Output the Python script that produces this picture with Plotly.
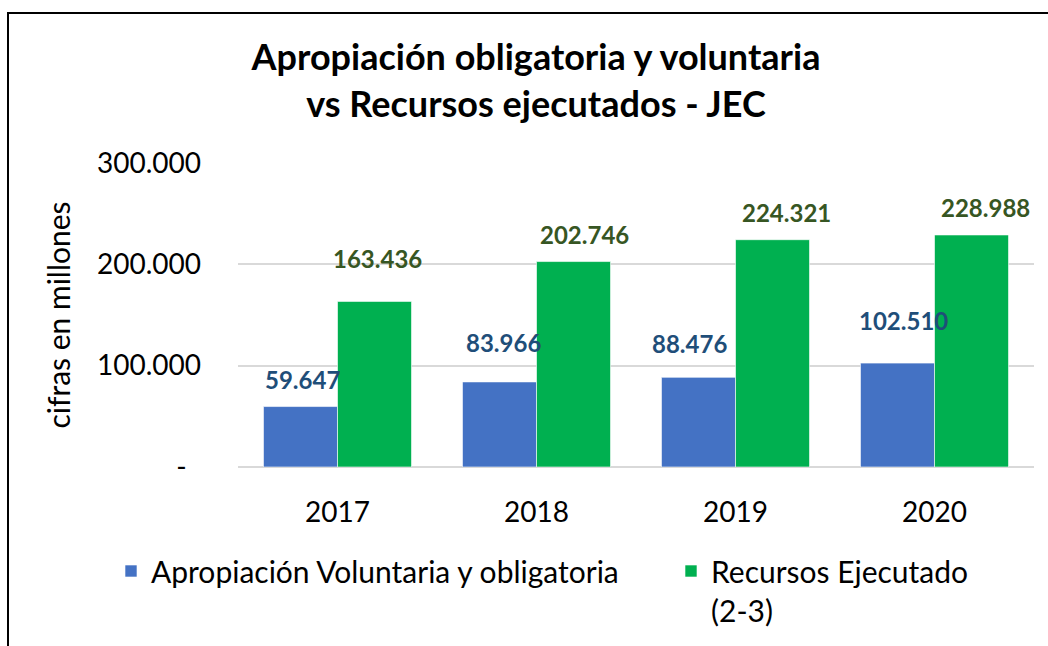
import plotly.graph_objects as go

years = ["2017", "2018", "2019", "2020"]
apropiacion = [59647, 83966, 88476, 102510]
recursos = [163436, 202746, 224321, 228988]
apropiacion_labels = ["59.647", "83.966", "88.476", "102.510"]
recursos_labels = ["163.436", "202.746", "224.321", "228.988"]
ytick_vals = [0, 100000, 200000, 300000]
ytick_text = ["-\u00a0\u00a0", "100.000", "200.000", "300.000"]

# label pixel offsets (xshift, yshift) relative to each bar-group category center / bar top
apr_off = [(-37 + 2, 27), (-37 + 4, 39), (-37 - 9, 34), (-37 + 6, 43)]
rec_off = [(37 + 3, 43), (37 + 11, 27), (37 + 14, 27), (37 + 14, 27)]

FONT = "Lato"
BLUE = "#4472C4"
GREEN = "#00B050"

fig = go.Figure()
fig.add_trace(go.Bar(x=years, y=apropiacion, name="Apropiación Voluntaria y obligatoria",
                     legend="legend", showlegend=True,
                     marker=dict(color=BLUE, line=dict(color="rgba(255,255,255,0.6)", width=1))))
fig.add_trace(go.Bar(x=years, y=recursos, name="Recursos Ejecutado<br>(2-3)",
                     legend="legend2", showlegend=True,
                     marker=dict(color=GREEN, line=dict(color="rgba(255,255,255,0.6)", width=1))))

annotations = []
# annotation x uses the category's index (numeric-looking category names would be read as indices)
for i, (v, t, (dx, dy)) in enumerate(zip(apropiacion, apropiacion_labels, apr_off)):
    annotations.append(dict(x=i, y=v, xref="x", yref="y", text=t, showarrow=False,
                            xshift=dx, yshift=dy, yanchor="middle",
                            font=dict(family=FONT, size=24, color="#1F4E79", weight="bold")))
for i, (v, t, (dx, dy)) in enumerate(zip(recursos, recursos_labels, rec_off)):
    annotations.append(dict(x=i, y=v, xref="x", yref="y", text=t, showarrow=False,
                            xshift=dx, yshift=dy, yanchor="middle",
                            font=dict(family=FONT, size=24, color="#375623", weight="bold")))

legend_common = dict(orientation="h", xanchor="left", yanchor="top", valign="top",
                     y=(467 - 545) / 304, bgcolor="rgba(0,0,0,0)", visible=True,
                     font=dict(family=FONT, size=30, color="#000000"))

fig.update_layout(
    width=1048, height=646,
    showlegend=True,
    margin=dict(l=238, r=14, t=163, b=179, autoexpand=False),
    paper_bgcolor="white", plot_bgcolor="white",
    font=dict(family=FONT, color="#000000"),
    barmode="group", bargap=0.256, bargroupgap=0,
    title=dict(text="<b>Apropiación obligatoria y voluntaria<br>vs Recursos ejecutados - JEC</b>",
               x=536 / 1048, xref="container", xanchor="center",
               y=1 - 70 / 646, yref="container", yanchor="middle",
               font=dict(family=FONT, size=36, color="#000000")),
    xaxis=dict(type="category", range=[-0.5, len(years) - 0.5], showgrid=False, showline=False,
               ticks="", ticklabelstandoff=26,
               tickfont=dict(family=FONT, size=28, color="#000000")),
    yaxis=dict(range=[0, 300000], tickvals=ytick_vals, ticktext=ytick_text,
               showgrid=True, gridcolor="#D9D9D9", gridwidth=2,
               zeroline=True, zerolinecolor="#D9D9D9", zerolinewidth=2,
               showline=False, ticks="", ticklabelstandoff=36,
               tickfont=dict(family=FONT, size=28, color="#000000"),
               title=dict(text="cifras en millones", standoff=17,
                          font=dict(family=FONT, size=30, color="#000000"))),
    legend=dict(legend_common, x=(111 - 238) / 796),
    legend2=dict(legend_common, x=(671 - 238) / 796),
    annotations=annotations,
    shapes=[dict(type="rect", xref="paper", yref="paper",
                 x0=(8 - 238) / 796, x1=(1060 - 238) / 796,
                 y0=(467 - 680) / 304, y1=(467 - 13) / 304,
                 line=dict(color="#000000", width=2), fillcolor="rgba(0,0,0,0)", layer="below")],
)

fig.write_html("out.html", post_script="document.body.style.margin='0';",
               config={"displayModeBar": False})
